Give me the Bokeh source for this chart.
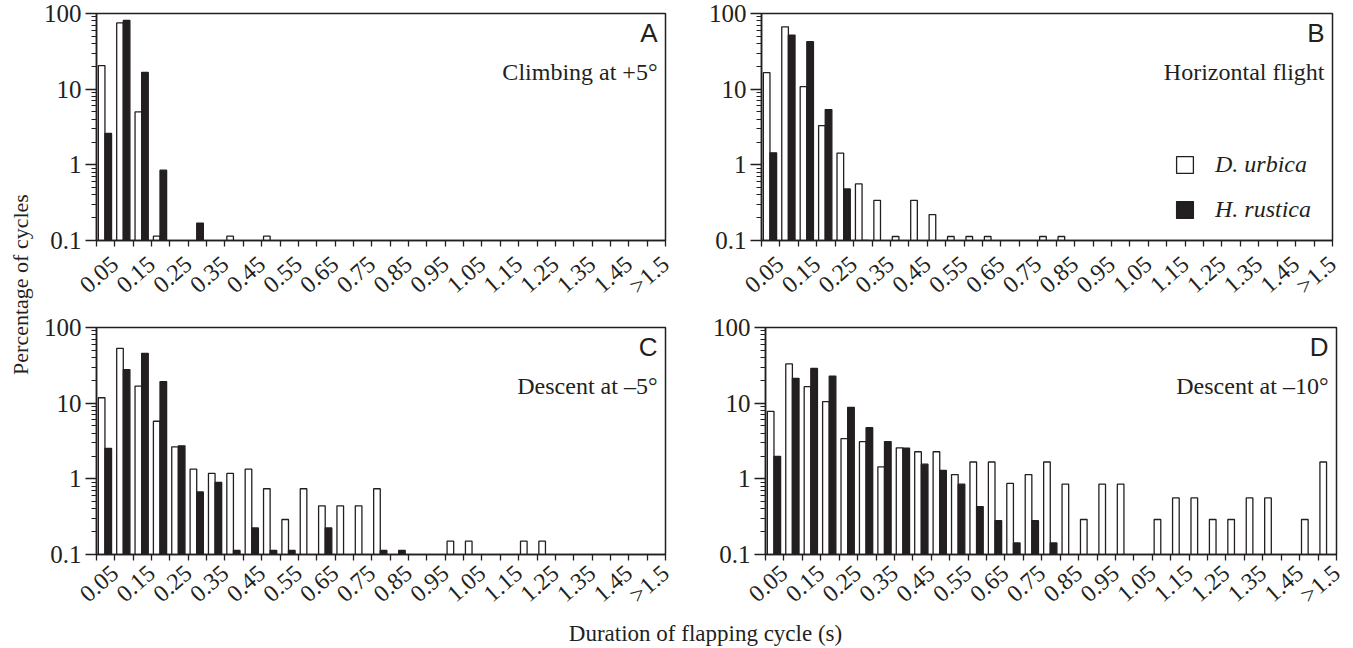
import math
import numpy as np
from bokeh.plotting import figure
from bokeh.models import (Range1d, FixedTicker, CustomJSTickFormatter, Label,
                          Legend, LegendItem, ColumnDataSource)
from bokeh.layouts import row, column
from bokeh.embed import file_html
from bokeh.resources import INLINE

# ---------------- data ----------------
# 31 bins of 0.05 s: 0-0.05, 0.05-0.10, ..., 1.45-1.50, >1.5
tick_labels = ["0.05", "0.15", "0.25", "0.35", "0.45", "0.55", "0.65", "0.75",
               "0.85", "0.95", "1.05", "1.15", "1.25", "1.35", "1.45", ">1.5"]
species = ["D. urbica", "H. rustica"]

# A: climbing at +5 deg
urbica_A = [20.5, 75, 5.0, 0.114, 0, 0, 0, 0.114, 0, 0.114, 0, 0, 0, 0, 0, 0,
            0, 0, 0, 0, 0, 0, 0, 0, 0, 0, 0, 0, 0, 0, 0]
rustica_A = [2.6, 81, 16.6, 0.85, 0, 0.17, 0, 0, 0, 0, 0, 0, 0, 0, 0, 0,
             0, 0, 0, 0, 0, 0, 0, 0, 0, 0, 0, 0, 0, 0, 0]
# B: horizontal flight
urbica_B = [16.5, 66.7, 10.8, 3.3, 1.43, 0.56, 0.34, 0.113, 0.34, 0.22, 0.113, 0.113,
            0.113, 0, 0, 0.113, 0.113, 0, 0, 0, 0, 0, 0, 0, 0, 0, 0, 0, 0, 0, 0]
rustica_B = [1.44, 51.8, 42.3, 5.37, 0.48, 0.098, 0, 0, 0, 0, 0, 0, 0, 0, 0, 0,
             0, 0, 0, 0, 0, 0, 0, 0, 0, 0, 0, 0, 0, 0, 0]
# C: descent at -5 deg
urbica_C = [11.8, 53, 16.8, 5.77, 2.65, 1.34, 1.18, 1.18, 1.34, 0.74, 0.29, 0.74,
            0.44, 0.44, 0.44, 0.74, 0, 0, 0, 0.15, 0.15, 0, 0, 0.15, 0.15, 0, 0, 0, 0, 0, 0]
rustica_C = [2.52, 27.8, 45.6, 19.3, 2.73, 0.67, 0.90, 0.113, 0.224, 0.113, 0.113, 0,
             0.224, 0, 0, 0.113, 0.113, 0, 0, 0, 0, 0, 0, 0, 0, 0, 0, 0, 0, 0, 0]
# D: descent at -10 deg
urbica_D = [7.8, 33, 16.5, 10.5, 3.4, 3.1, 1.44, 2.57, 2.28, 2.28, 1.14, 1.67, 1.67,
            0.87, 1.14, 1.67, 0.85, 0.29, 0.85, 0.85, 0, 0.29, 0.56, 0.56, 0.29, 0.29,
            0.56, 0.56, 0, 0.29, 1.67]
rustica_D = [1.98, 21.3, 28.7, 22.8, 8.8, 4.75, 3.11, 2.55, 1.56, 1.29, 0.85, 0.43,
             0.28, 0.142, 0.28, 0.142, 0, 0, 0, 0, 0, 0, 0, 0, 0, 0, 0, 0, 0, 0, 0]

# ---------------- style ----------------
INK = "#231f20"
SERIF = "Liberation Serif"
SANS = "Liberation Sans"
NB = len(urbica_A)

# map tick positions (bin boundaries 0..31) to labels
all_labels = [""] * (NB + 1)
for k, lab in enumerate(tick_labels[:-1]):
    all_labels[2 * k + 1] = lab
all_labels[NB] = tick_labels[-1]


def make_panel(white, black, letter, subtitle, w, h, bl, br, bt, bb, standoff,
               legend=False):
    p = figure(width=w, height=h, x_range=Range1d(0, NB), y_range=Range1d(0.1, 100),
               y_axis_type="log", output_backend="svg", toolbar_location=None,
               min_border_left=bl, min_border_right=br, min_border_top=bt,
               min_border_bottom=bb)
    p.grid.visible = False
    p.outline_line_color = INK
    p.outline_line_width = 1.5
    p.background_fill_color = "white"
    p.border_fill_color = "white"

    idx = np.arange(NB)
    wv = np.array(white, dtype=float)
    bv = np.array(black, dtype=float)
    mw = wv > 0
    mb = bv > 0
    src_w = ColumnDataSource(dict(x=idx[mw] + 0.28, top=wv[mw]))
    src_b = ColumnDataSource(dict(x=idx[mb] + 0.64, top=bv[mb]))
    rw = p.vbar(x="x", top="top", bottom=0.1, width=0.36, source=src_w,
                fill_color="white", line_color=INK, line_width=1.3)
    rb = p.vbar(x="x", top="top", bottom=0.1, width=0.36, source=src_b,
                fill_color=INK, line_color=INK, line_width=1.3)

    # x axis
    xa = p.xaxis[0]
    xa.ticker = FixedTicker(ticks=list(range(NB + 1)))
    xa.formatter = CustomJSTickFormatter(args=dict(labels=all_labels),
                                         code="return labels[Math.round(tick)];")
    xa.major_label_orientation = 0.72
    xa.major_tick_out = 6
    xa.major_tick_in = 0
    xa.minor_tick_out = 0
    xa.axis_line_color = INK
    xa.axis_line_width = 1.5
    xa.major_tick_line_color = INK
    xa.major_tick_line_width = 1.3
    xa.major_label_text_font = SERIF
    xa.major_label_text_font_size = "24px"
    xa.major_label_text_color = INK
    xa.major_label_standoff = standoff

    # y axis
    ya = p.yaxis[0]
    minors = [m * d for d in (0.1, 1, 10) for m in range(2, 10)]
    ya.ticker = FixedTicker(ticks=[0.1, 1, 10, 100], minor_ticks=minors)
    ya.formatter = CustomJSTickFormatter(code="return tick.toString();")
    ya.major_tick_out = 11
    ya.major_tick_in = 0
    ya.minor_tick_out = 5
    ya.minor_tick_in = 0
    ya.axis_line_color = INK
    ya.axis_line_width = 1.5
    ya.major_tick_line_color = INK
    ya.major_tick_line_width = 1.3
    ya.minor_tick_line_color = INK
    ya.minor_tick_line_width = 1
    ya.major_label_text_font = SERIF
    ya.major_label_text_font_size = "25px"
    ya.major_label_text_color = INK
    ya.major_label_standoff = 4

    # panel letter and condition
    p.add_layout(Label(x=NB, y=100, x_offset=-8, y_offset=-19, text=letter,
                       text_align="right", text_baseline="alphabetic",
                       text_font=SANS, text_font_size="26px", text_color=INK))
    p.add_layout(Label(x=NB, y=100, x_offset=-8, y_offset=-58, text=subtitle,
                       text_align="right", text_baseline="alphabetic",
                       text_font=SERIF, text_font_size="24px", text_color=INK))

    if legend:
        lg = Legend(items=[LegendItem(label=species[0], renderers=[rw]),
                           LegendItem(label=species[1], renderers=[rb])],
                    location=(413, 17), glyph_width=21, glyph_height=21,
                    label_height=21, label_text_font=SERIF,
                    label_text_font_style="italic", label_text_font_size="24px",
                    label_text_color=INK, label_standoff=20, spacing=18,
                    padding=0, margin=0, border_line_alpha=0,
                    background_fill_alpha=0)
        p.add_layout(lg)
    return p


# (width, height, border left, right, top, bottom) chosen so frames sit where the
# reference puts them: A/C frames at x 95-665, B/D at x 761/765-1332/1336
pA = make_panel(urbica_A, rustica_A, "A", "Climbing at +5°", 665, 313, 55, 40, 13, 71, 14)
pB = make_panel(urbica_B, rustica_B, "B", "Horizontal flight", 647, 313, 56, 20, 12, 73, 14,
                legend=True)
pC = make_panel(urbica_C, rustica_C, "C", "Descent at –5°", 665, 307, 55, 40, 14, 65, 9)
pD = make_panel(urbica_D, rustica_D, "D", "Descent at –10°", 647, 307, 60, 16, 13, 65, 9)


def text_fig(w, h):
    f = figure(width=w, height=h, x_range=Range1d(0, w), y_range=Range1d(0, h),
               output_backend="svg", toolbar_location=None, min_border=0,
               x_axis_location=None, y_axis_location=None)
    f.grid.visible = False
    f.outline_line_color = None
    return f


ytf = text_fig(40, 620)
ytf.add_layout(Label(x=20, y=620 - 284, text="Percentage of cycles", angle=math.pi / 2,
                     text_align="center", text_baseline="middle", text_font=SERIF,
                     text_font_size="22px", text_color=INK))

xtf = text_fig(1352, 27)
xtf.add_layout(Label(x=705, y=14, text="Duration of flapping cycle (s)",
                     text_align="center", text_baseline="alphabetic", text_font=SERIF,
                     text_font_size="23px", text_color=INK))

layout = column(row(ytf, column(row(pA, pB), row(pC, pD))), xtf)

with open("out.html", "w") as fh:
    fh.write(file_html(layout, INLINE))
